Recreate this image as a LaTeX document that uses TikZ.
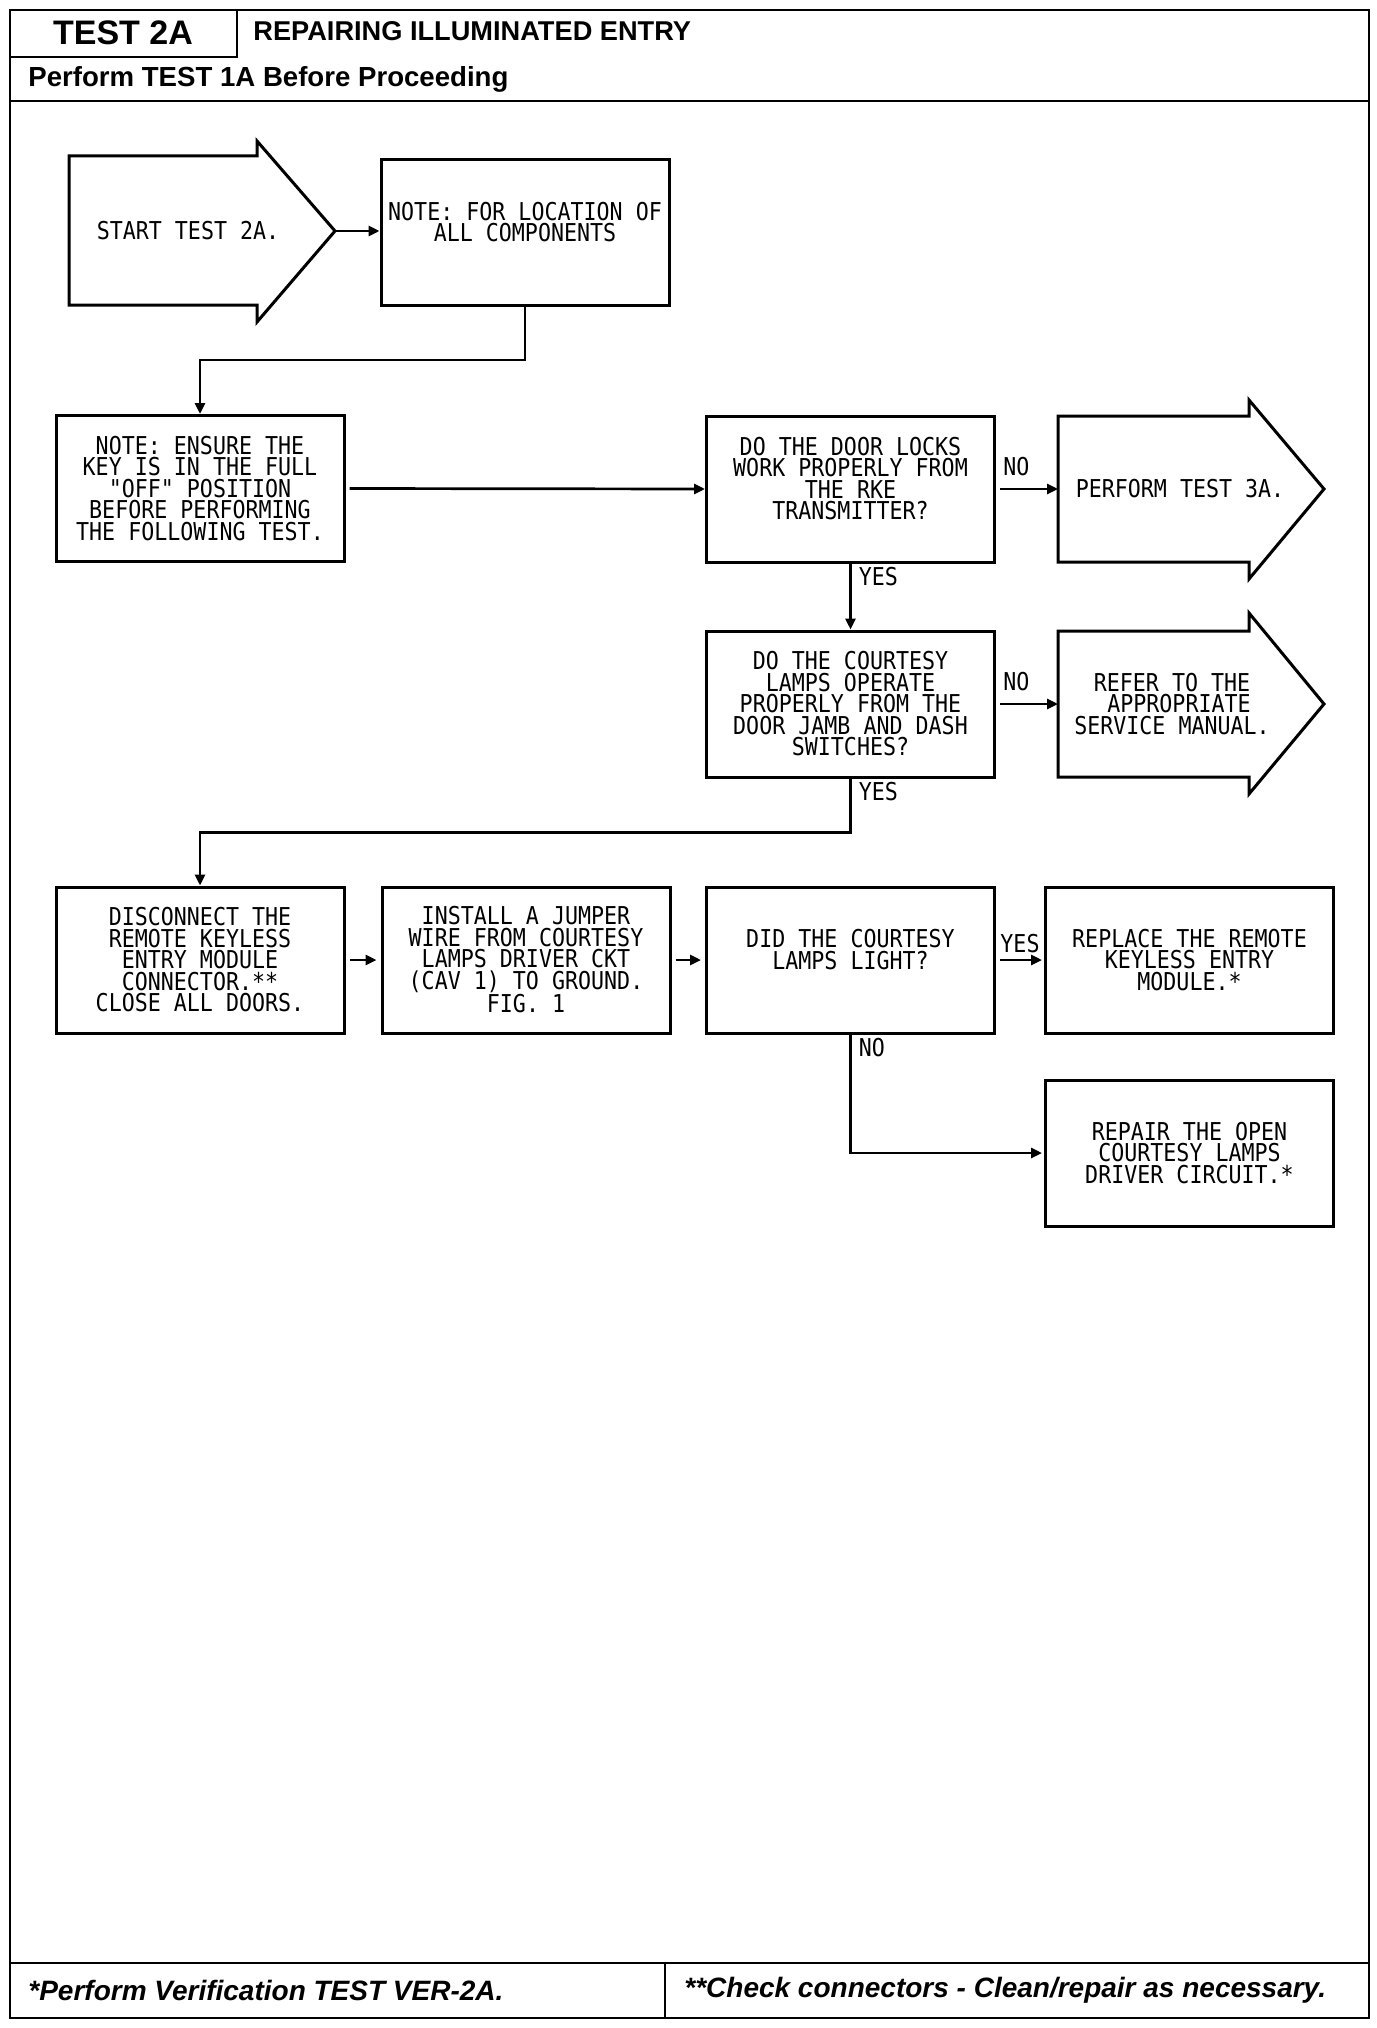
\documentclass[tikz,border=0pt]{standalone}
\usepackage{fontspec}
\setmainfont{Liberation Sans}
\newfontfamily\plotfont[FakeStretch=0.88]{DejaVu Sans Mono}
\usetikzlibrary{arrows.meta}
\tikzset{
  plot/.style={font=\plotfont\fontsize{12.3pt}{10.75pt}\selectfont},
  box/.style={plot, draw, line width=1.5pt, minimum width=144pt, minimum height=73pt, inner sep=0pt, align=center},
  bigarrow/.style={draw, line width=1.5pt, line join=miter},
  conn/.style={line width=1.35pt, -{Triangle[length=5.5pt,width=5pt]}},
  lbl/.style={plot, inner sep=0pt},
  frame/.style={line width=1.2pt},
  hd/.style={inner sep=0pt, anchor=west},
}
\begin{document}
\begin{tikzpicture}[x=0.5pt,y=-0.5pt]
\useasboundingbox (0,0) rectangle (1376,2028);
% page frame
\draw[frame] (10,10) rectangle (1369,2018);
\draw[frame] (10,57) -| (237,10);
\draw[frame] (10,101) -- (1369,101);
\draw[frame] (10,1963) -- (1369,1963);
\draw[frame] (665,1963) -- (665,2018);
\node[inner sep=0pt, font=\bfseries\fontsize{17}{17}\selectfont] (t2a) at (123,33) {TEST 2A};
\node[hd, font=\bfseries\fontsize{13.6}{14}\selectfont] (title) at (253,31) {REPAIRING ILLUMINATED ENTRY};
\node[hd, font=\bfseries\fontsize{13.8}{14}\selectfont] (pre) at (28,79) {Perform TEST 1A Before Proceeding};
\node[hd, font=\bfseries\itshape\fontsize{14}{14}\selectfont] (f1) at (28,1990) {*Perform Verification TEST VER-2A.};
\node[hd, font=\bfseries\itshape\fontsize{14}{14}\selectfont] (f2) at (684,1990) {**Check connectors - Clean/repair as necessary.};

% big arrows
\draw[bigarrow] (69,156) -- (257,156) -- (257,141) -- (335,231) -- (257,322) -- (257,305) -- (69,305) -- cycle;
\coordinate (starttip) at (335,231);
\node[plot] (start) at (188,231) {START TEST 2A.};

\draw[bigarrow] (1058,416) -- (1249,416) -- (1249,400) -- (1324,489) -- (1249,579) -- (1249,562) -- (1058,562) -- cycle;
\coordinate (perfL) at (1058,489);
\node[plot] (perf) at (1180,489) {PERFORM TEST 3A.};

\draw[bigarrow] (1058,631) -- (1249,631) -- (1249,613) -- (1324,704) -- (1249,794) -- (1249,777) -- (1058,777) -- cycle;
\coordinate (referL) at (1058,704);
\node[plot, align=center] (refer) at (1172,704) {REFER TO THE\\\hspace*{7pt}APPROPRIATE\\SERVICE MANUAL.};

% boxes
\node[box] (noteloc) at (525,232.5) {NOTE: FOR LOCATION OF\\ALL COMPONENTS\\~};
\node[box] (ensure) at (200,488.5) {NOTE: ENSURE THE\\KEY IS IN THE FULL\\"OFF" POSITION\\BEFORE PERFORMING\\THE FOLLOWING TEST.};
\node[box] (door) at (850.5,489) {DO THE DOOR LOCKS\\WORK PROPERLY FROM\\THE RKE\\TRANSMITTER?\\~};
\node[box] (court) at (850.5,704) {DO THE COURTESY\\LAMPS OPERATE\\PROPERLY FROM THE\\DOOR JAMB AND DASH\\SWITCHES?};
\node[box] (disc) at (200,960) {DISCONNECT THE\\REMOTE KEYLESS\\ENTRY MODULE\\CONNECTOR.**\\CLOSE ALL DOORS.};
\node[box] (inst) at (526,960) {INSTALL A JUMPER\\WIRE FROM COURTESY\\LAMPS DRIVER CKT\\(CAV 1) TO GROUND.\\FIG. 1};
\node[box] (did) at (850.5,960) {DID THE COURTESY\\LAMPS LIGHT?\\~};
\node[box] (repl) at (1189.5,960) {REPLACE THE REMOTE\\KEYLESS ENTRY\\MODULE.*};
\node[box] (repair) at (1189.5,1153) {REPAIR THE OPEN\\COURTESY LAMPS\\DRIVER CIRCUIT.*};

% connectors
\draw[conn] (starttip) -- (noteloc.west |- starttip);
\draw[conn] (noteloc.south) -- ++(0,53) -| (ensure.north);
\draw[conn, shorten <=2pt] (ensure.east) -- (door.west);
\draw[conn, shorten <=2pt] (door.east) -- node[lbl, pos=0.33, above=6pt] {NO} (perfL);
\draw[conn] (door.south) -- node[lbl, pos=0, anchor=north west, xshift=3.5pt, yshift=-1pt] {YES} (court.north);
\draw[conn, shorten <=2pt] (court.east) -- node[lbl, pos=0.33, above=6pt] {NO} (referL);
\draw[conn] (court.south) -- node[lbl, pos=0, anchor=north west, xshift=3.5pt, yshift=-1pt] {YES} ++(0,54) -| (disc.north);
\draw[conn, shorten <=2pt, shorten >=2pt] (disc) -- (inst);
\draw[conn, shorten <=2pt, shorten >=2pt] (inst) -- (did);
\draw[conn, shorten <=2pt, shorten >=1pt] (did) -- node[lbl, above=3pt] {YES} (repl);
\draw[conn, shorten >=1pt] (did.south) -- node[lbl, pos=0, anchor=north west, xshift=3.5pt, yshift=-1pt] {NO} ++(0,0) |- (repair.west);
\end{tikzpicture}
\end{document}
